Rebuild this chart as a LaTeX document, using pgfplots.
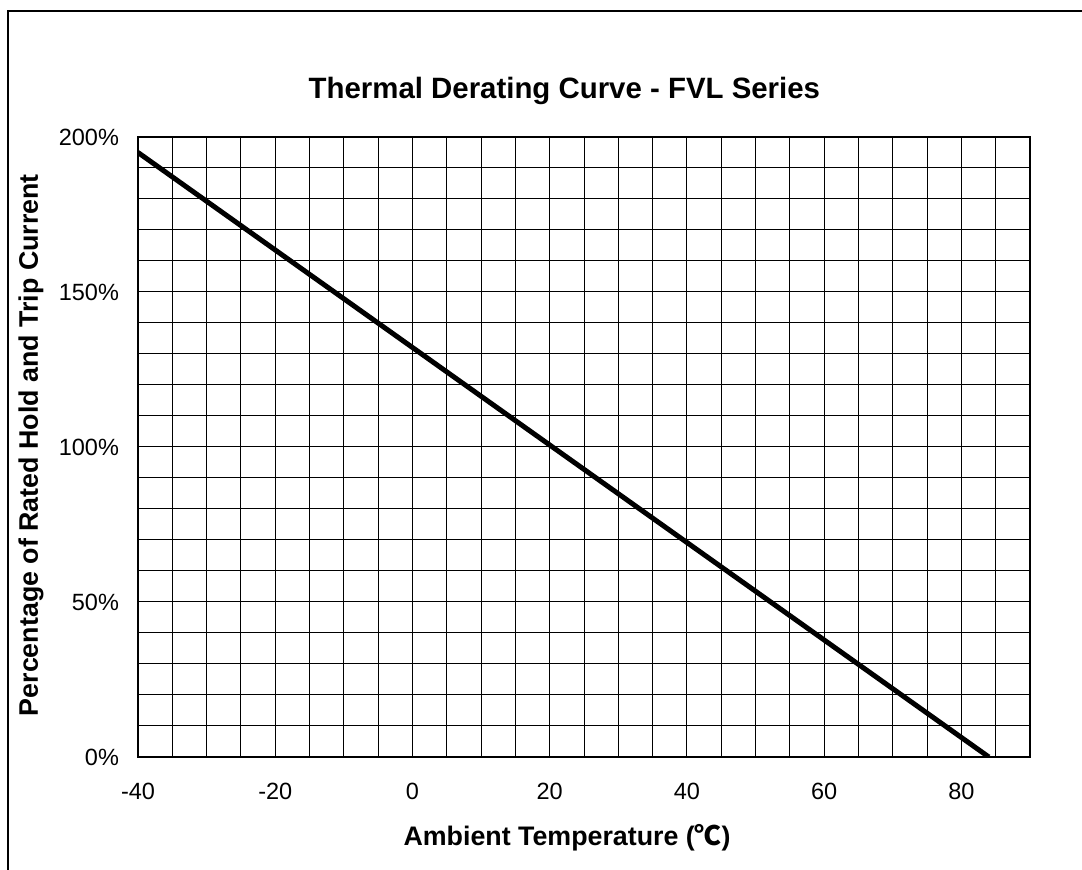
\documentclass[border=0pt]{standalone}
\usepackage{fontspec}
\setmainfont{Liberation Sans}
\newfontfamily\cjk{Noto Sans CJK SC}
\usepackage{pgfplots}
\pgfplotsset{compat=1.18}
\begin{document}
\begin{tikzpicture}
\useasboundingbox (0,0) rectangle (541pt,435pt);
\draw[line width=0.6pt] (4pt,0) -- (4pt,429.5pt) -- (541pt,429.5pt);
\begin{axis}[
  at={(69pt,56.5pt)}, anchor=south west, scale only axis,
  width=446pt, height=310pt,
  xmin=-40, xmax=90, ymin=0, ymax=200,
  xtick={-40,-20,...,80}, ytick={0,50,...,200},
  minor xtick={-40,-35,...,90}, minor ytick={0,10,...,200},
  grid=both,
  major grid style={black, line width=0.5pt},
  minor grid style={black, line width=0.5pt},
  tick style={black, line width=0.5pt},
  major tick length=3pt, minor tick length=0pt, tick align=inside,
  axis line style={line width=0.8pt},
  /pgf/number format/assume math mode=true,
  ticklabel style={font=\fontsize{11.75}{14}\selectfont},
  yticklabel={\pgfmathprintnumber{\tick}\%},
  xticklabel style={yshift=-9.5pt},
  yticklabel style={xshift=-6pt},
  title={Thermal Derating Curve - FVL Series},
  title style={font=\bfseries\fontsize{14.7}{17}\selectfont, at={(0.478,1.0548)}, anchor=center},
  xlabel={Ambient Temperature ({\cjk ℃})},
  xlabel style={font=\bfseries\fontsize{13.4}{15}\selectfont, at={(0.481,-0.1306)}, anchor=center},
  ylabel={Percentage of Rated Hold and Trip Current},
  ylabel style={font=\bfseries\fontsize{13.4}{15}\selectfont, at={(-0.12,0.503)}, anchor=center},
]
\addplot[black, line width=2.5pt] coordinates {(-40,195) (84,0)};
\end{axis}
\end{tikzpicture}
\end{document}
